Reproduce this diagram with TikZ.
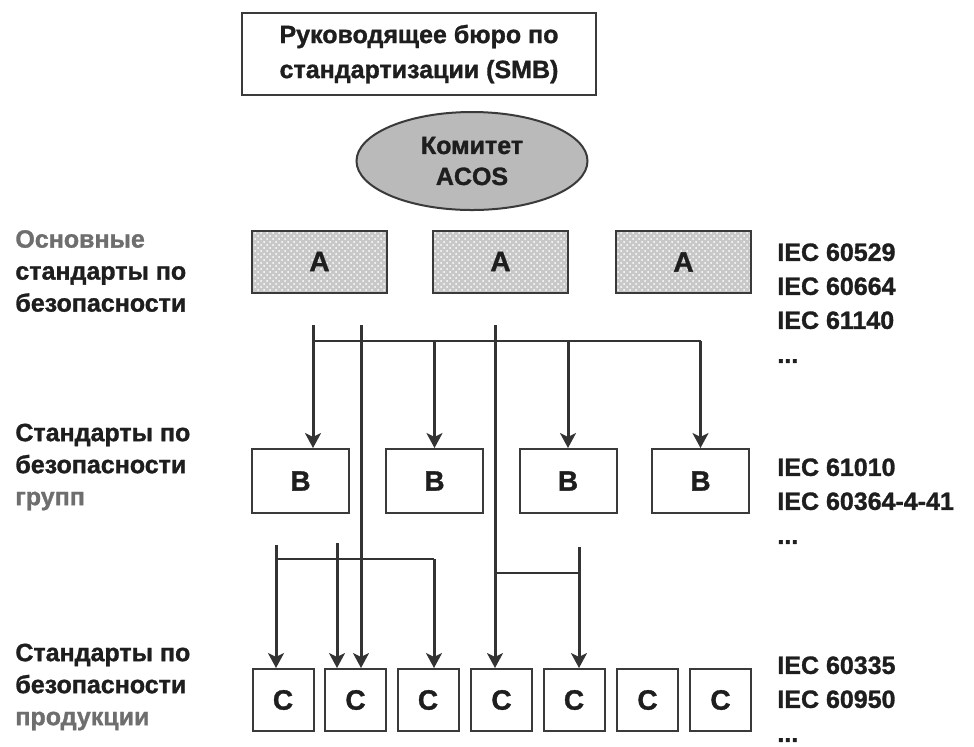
\documentclass[tikz,border=0pt]{standalone}
\usepackage{fontspec}
\setmainfont{Liberation Sans}[BoldFeatures={FakeBold=1.2}]
\usetikzlibrary{arrows.meta,calc,positioning,shapes.geometric,patterns}
\definecolor{Ink}{HTML}{1E1E1E}
\definecolor{Frame}{HTML}{3A3A3A}
\definecolor{Wire}{HTML}{333333}
\definecolor{Oval}{HTML}{BABABA}
\definecolor{Tex}{HTML}{C8C8C8}
\definecolor{Muted}{HTML}{6E6E6E}

\begin{document}
\begin{tikzpicture}[
    x=0.5pt, y=-0.5pt,
    lbl/.style={font=\bfseries\fontsize{12.5}{16}\selectfont, text=Ink, align=left, inner sep=0pt},
    iec/.style={lbl, font=\bfseries\fontsize{12.5}{17}\selectfont},
    box/.style={draw=Frame, line width=1pt, fill=white, inner sep=0pt,
      font=\bfseries\fontsize{14}{16}\selectfont, text=Ink},
    abox/.style={box, preaction={fill=Tex}, pattern=crosshatch dots, pattern color=white,
      minimum width=67.5pt, minimum height=31pt},
    bbox/.style={box, minimum width=48.5pt, minimum height=32pt},
    cbox/.style={box, minimum width=30.5pt, minimum height=31pt},
    link/.style={draw=Wire, line width=0.9pt},
    arr/.style={draw=Wire, line width=1.5pt, -{Stealth[length=7.5pt,width=8pt,inset=2pt]}}
  ]
  \useasboundingbox (0,0) rectangle (974,746);

  % governing bodies
  \node[box, minimum width=177pt, minimum height=41pt, align=center,
    font=\bfseries\fontsize{12.5}{17.5}\selectfont] (smb) at (419,54)
    {Руководящее бюро по\\стандартизации (SMB)};
  \node[ellipse, draw=Frame, line width=1pt, fill=Oval, inner sep=0pt,
    minimum width=115.5pt, minimum height=49pt, align=center,
    font=\bfseries\fontsize{12.5}{15.5}\selectfont, text=Ink] (acos) at (472,161)
    {Комитет\\ACOS};

  % level A
  \node[abox] (a1) at (319.5,261.5) {A};
  \node[abox] (a2) at (500.5,261.5) {A};
  \node[abox] (a3) at (683.5,262) {A};

  % level B
  \foreach \i/\x in {1/300.5,2/434.5,3/568,4/700.5}
    \node[bbox] (b\i) at (\x,481) {B};

  % level C
  \foreach \i/\x in {1/283,2/355.5,3/428,4/501.5,5/574,6/647.5,7/720.5}
    \node[cbox] (c\i) at (\x,700) {C};

  % row captions
  \node[lbl, anchor=west] (basic) at (15,271)
    {\textcolor{Muted}{Основные}\\стандарты по\\безопасности};
  \node[lbl, anchor=west] (group) at (15,467)
    {Стандарты по\\безопасности\\\textcolor{Muted}{групп}};
  \node[lbl, anchor=west] (product) at (15,687)
    {Стандарты по\\безопасности\\\textcolor{Muted}{продукции}};

  \node[iec, anchor=north west] (iecA) at (777,243) {IEC 60529\\IEC 60664\\IEC 61140\\...};
  \node[iec, anchor=north west] (iecB) at (777,458) {IEC 61010\\IEC 60364-4-41\\...};
  \node[iec, anchor=north west] (iecC) at (777,656) {IEC 60335\\IEC 60950\\...};

  % connectors A -> B, C
  \coordinate (t1) at (313,325);
  \coordinate (t2) at (361,325);
  \coordinate (t3) at (495,325);
  \coordinate (j1) at (313,341);
  \draw[arr] (t1) -- (t1 |- b1.north);
  \draw[link] (j1) -- (j1 -| b4.north);
  \draw[arr] (j1 -| b2.north) -- (b2.north);
  \draw[arr] (j1 -| b3.north) -- (b3.north);
  \draw[arr] (j1 -| b4.north) -- (b4.north);
  \draw[arr] (t2) -- (t2 |- c2.north);
  \draw[arr] (t3) -- (t3 |- c4.north);

  % connectors B -> C
  \coordinate (t4) at (276,545);
  \coordinate (t5) at (337,543);
  \coordinate (t6) at (579,547);
  \coordinate (j2) at (276,559);
  \coordinate (k2) at (434,559);
  \coordinate (j3) at (495,573);
  \draw[arr] (t4) -- (t4 |- c1.north);
  \draw[link] (j2) -- (k2);
  \draw[arr] (k2) -- (k2 |- c3.north);
  \draw[arr] (t5) -- (t5 |- c2.north);
  \draw[link] (j3) -- (j3 -| t6);
  \draw[arr] (t6) -- (t6 |- c5.north);
\end{tikzpicture}
\end{document}
